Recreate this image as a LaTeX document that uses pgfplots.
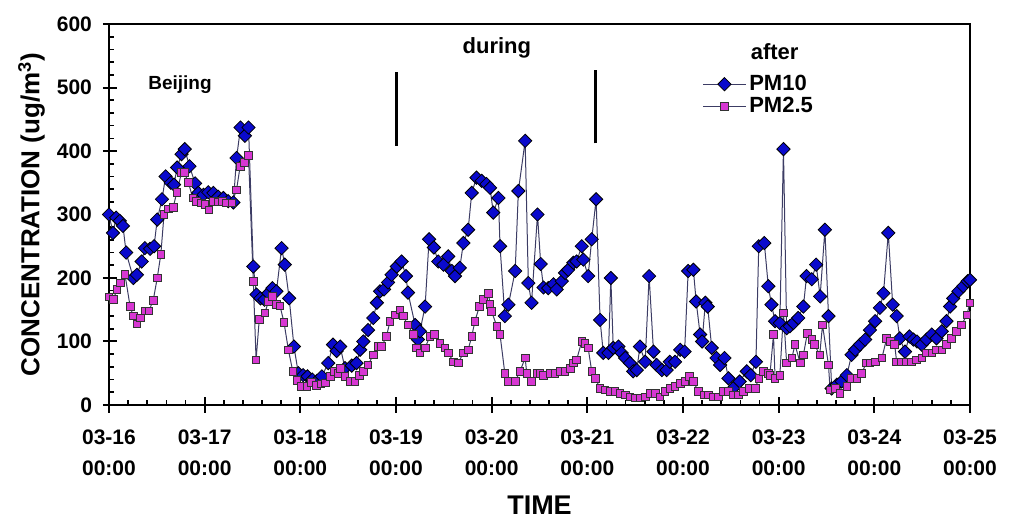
\documentclass[border=0pt]{standalone}
\usepackage{fontspec}
\setmainfont{Liberation Sans}
\usepackage{pgfplots}
\pgfplotsset{compat=1.18}

\definecolor{pmblue}{RGB}{10,10,205}
\definecolor{pmmag}{RGB}{215,55,210}
\definecolor{pmline}{RGB}{60,60,100}

\pgfplotstableread{
h v
0 300
1 271
1.8 295
2.7 290
3.5 282
4.3 240
6.1 200
7 205
8.2 226
9 247
10.3 246
11.3 250
12.1 292
13.3 324
14.2 360
15.5 350
16.3 347
17.1 374
18.2 395
19 403
20.2 376
21.6 349
22.4 334
23.7 331
24.9 335
26.2 334
27.4 328
28.7 326
29.9 321
31.2 319
32 389
33 437
34.1 424
35 437
36.2 218
37 174
38 168
39 166
40 176
41 184
42 179
43.3 247
44.1 221
45.2 168
46.4 92
47.5 50
48.7 47
49.8 45
51 40
52.2 38
53.4 45
55 66
56.2 95
57.1 85
58 92
59.2 58
60.9 62
62.1 66
63 87
63.8 100
65 118
66.3 137
67.2 161
68 179
69 182
70 193
70.9 205
72.2 218
73.4 226
74.5 203
75 177
76.8 126
77.5 103
78 116
79.3 155
80.3 261
81.5 248
82.6 226
83.9 221
85.1 234
86 211
86.8 203
88 216
88.9 255
90.1 276
91 334
92.2 358
93.5 353
94.7 348
95.6 342
96.4 303
97.7 326
98.1 250
99.3 140
100.2 158
101.9 211
102.7 337
104.4 416
105.2 192
106 161
107.5 300
108.3 222
109 185
110.2 184
111.5 190
112.3 182
113.6 195
114.4 208
115.2 213
116.5 224
117.3 226
118.6 250
119 229
120.2 203
121.1 261
122.2 324
123.2 134
124 82
125.3 82
125.9 200
126.5 90
127.8 92
128.6 82
129.5 74
130.7 66
131.5 53
132.4 55
133.2 92
134.5 68
135.5 203
136.6 84
137.4 63
138.7 55
139.9 55
140.7 68
142 68
143.3 87
144.4 84
145.3 211
146.6 213
147.3 163
148.3 111
148.8 100
149.6 161
150.2 155
151.2 90
152.4 74
153.3 63
154.4 74
155.4 42
157 29
158.2 37
160 53
161 47
162.3 68
163 250
164.4 255
165.4 187
166.2 158
167.1 132
168.3 129
169.2 403
170 121
170.8 124
171.7 129
172.9 137
174.2 155
175 203
176.3 198
177.4 221
178.4 171
179.6 276
180.5 140
181.3 26
182.6 32
183.8 37
185.1 47
186.3 79
187.2 87
188.4 95
189.7 103
190.9 118
192.2 132
193.4 153
194.3 176
195.5 271
196.6 158
197.6 140
198.4 105
199.7 84
200.8 108
201.8 103
202.7 100
203.9 95
205.1 103
206.4 111
207.6 105
208.9 116
210.1 132
211 155
211.8 168
213.1 179
214.3 187
215.4 195
216 197
}\pmten

\pgfplotstableread{
h v
0 170
1.1 166
2 182
2.8 192
4 206
5.3 155
6.1 140
7 128
7.9 137
9 148
10 148
11.1 165
12.1 200
13 237
13.8 300
14.9 309
16.1 311
17 335
18.2 366
18.9 366
19.9 351
21 326
22 321
23.2 318
24.1 316
25.1 307
26.2 321
27.4 320
28.5 321
29.5 318
30.8 318
32 339
32.9 376
33.9 382
35 393
36.2 195
36.9 71
37.7 135
39.1 145
40 163
41 171
42 158
42.9 156
43.9 130
45 87
46.1 53
47.1 39
48.3 29
49.6 29
50.8 36
52 31
53.2 33
54.3 35
55.5 45
56.5 53
57.4 50
58 58
59.2 45
60.4 37
61.7 37
62.8 47
63.8 53
65 63
66.3 79
67.5 92
68.4 92
69.6 108
70.5 132
71.7 142
73 150
73.8 140
75 126
76.3 111
77.1 90
78 82
79.3 90
80.5 108
81.7 111
83 97
84.3 90
85.1 82
86.4 68
87.6 66
88.9 82
90.1 87
91 108
91.8 132
92.9 155
93.9 166
95.2 176
95.6 158
96 147
97.3 124
98.1 111
99.3 50
100.2 37
101.9 37
103.1 53
104.4 74
104.8 50
106 37
107.3 50
108.1 50
109 47
110.6 50
111.9 50
113.1 53
114.4 53
115.7 58
116.5 66
117.3 71
118.6 100
119.4 97
120.2 90
121.1 53
122 42
123.2 26
124.4 24
125.7 21
126.9 21
128.2 18
129.5 16
130.7 13
131.9 11
133.2 11
134.5 13
135.7 18
137 18
138.2 13
139.5 21
140.7 26
142 29
143.3 34
144.5 37
145.6 45
146.6 37
147.9 21
149.2 16
150.4 16
151.7 13
152.9 13
154.2 21
155.4 21
156.7 16
157.9 16
159.2 21
160.5 26
162.1 26
163 42
164.2 53
165.4 50
165.8 47
166.7 111
167.1 42
168.3 47
169.2 145
170 66
171.3 74
172.1 95
173.4 66
174.2 79
175.2 113
176.3 103
177 95
178.3 79
179 126
180.5 63
180.9 24
182.2 26
183.4 18
185.1 29
186.3 42
187.6 42
188.8 50
190 66
190.9 66
192.2 68
193.9 74
195.1 105
196.1 100
197.1 95
197.6 68
198.8 68
200.1 68
201.3 68
202.6 71
203.9 74
205.1 82
206.4 82
207.6 87
208.9 87
210.1 95
211.4 105
212.6 116
213.9 126
215.2 142
216 161
}\pmtwofive

\begin{document}
\begin{tikzpicture}
\useasboundingbox (-54.5pt,-56.5pt) rectangle (452pt,202.5pt);
\begin{axis}[
  at={(0,0)}, anchor=south west,
  scale only axis, width=430.5pt, height=190.5pt,
  xmin=0, xmax=216, ymin=0, ymax=600,
  axis line style={line width=1.2pt},
  xtick={0,24,...,216},
  xticklabels={{03-16\\00:00},{03-17\\00:00},{03-18\\00:00},{03-19\\00:00},{03-20\\00:00},{03-21\\00:00},{03-22\\00:00},{03-23\\00:00},{03-24\\00:00},{03-25\\00:00}},
  ytick={0,100,...,600},
  minor x tick num=4, minor y tick num=4,
  xtick pos=left, ytick pos=left,
  tick align=inside,
  major tick length=4pt, minor tick length=2.5pt,
  every major tick/.append style={line width=1pt, black},
  every minor tick/.append style={line width=0.8pt, black},
  extra x ticks={0,24,...,216}, extra x tick labels={},
  extra x tick style={tick align=outside, major tick length=4pt},
  extra y ticks={0,100,...,600}, extra y tick labels={},
  extra y tick style={tick align=outside, major tick length=3pt},
  /pgf/number format/assume math mode=true,
  ticklabel style={font=\fontsize{10.5}{15.5}\selectfont\bfseries},
  xticklabel style={align=center, yshift=-9pt},
  yticklabel style={xshift=-5pt},
  xlabel={TIME},
  xlabel style={font=\fontsize{13.5}{16}\selectfont\bfseries, at={(axis description cs:0.5,-0.262)}, anchor=center},
  ylabel={CONCENTRATION (ug/m\textsuperscript{3})},
  ylabel style={font=\fontsize{13}{15}\selectfont\bfseries, at={(axis description cs:-0.09,0.5)}, anchor=center},
  legend style={at={(rel axis cs:0.689,0.875)}, anchor=north west, draw=none, fill=none,
    font=\fontsize{11}{12}\selectfont\bfseries, row sep=-1pt, inner sep=0pt,
    nodes={inner sep=1.5pt}},
  legend cell align=left,
  legend image code/.code={\draw[mark repeat=2,mark phase=2,#1] plot coordinates {(0cm,0cm) (0.375cm,0cm) (0.75cm,0cm)};},
]
\addplot[pmline, line width=0.5pt, mark=square*, mark size=2.35pt,
  mark options={rotate=45, fill=pmblue, draw=black, line width=0.4pt}]
  table[x=h, y=v] {\pmten};
\addlegendentry{PM10}
\addplot[pmline, line width=0.5pt, mark=square*, mark size=1.9pt,
  mark options={fill=pmmag, draw=black!80, line width=0.4pt}]
  table[x=h, y=v] {\pmtwofive};
\addlegendentry{PM2.5}
\draw[line width=1.5pt] (axis cs:72,408) -- (axis cs:72,525);
\draw[line width=1.5pt] (axis cs:122,412) -- (axis cs:122,528);
\node[font=\fontsize{9.5}{11}\selectfont\bfseries] at (axis cs:17.8,505) {Beijing};
\node[font=\fontsize{11}{12}\selectfont\bfseries] at (axis cs:97.3,562) {during};
\node[font=\fontsize{11}{12}\selectfont\bfseries] at (axis cs:167,556) {after};
\end{axis}
\end{tikzpicture}
\end{document}
